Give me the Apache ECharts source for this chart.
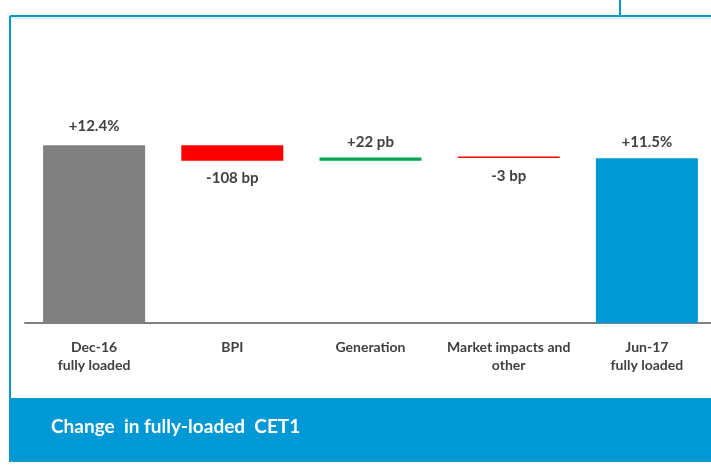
<!DOCTYPE html>
<html>
<head>
<meta charset="utf-8">
<script src="https://cdn.jsdelivr.net/npm/echarts@6/dist/echarts.min.js"></script>
<style>
  html, body { margin: 0; padding: 0; background: #fff; overflow: hidden; }
  #main { width: 720px; height: 466px; }
</style>
</head>
<body>
<div id="main"></div>
<script>
// waterfall data, in % points
const categories = ["Dec-16\nfully loaded", "BPI", "Generation", "Market impacts and\nother", "Jun-17\nfully loaded"];
const changes = [12.4, -1.08, 0.22, -0.03, 11.5];
const isTotal = [true, false, false, false, true];
const valueLabels = ["+12.4%", "-108 bp", "+22 pb", "-3 bp", "+11.5%"];
const barColors = ["#808080", "#ff0000", "#00a650", "#ff0000", "#0099d6"];

// build invisible base + visible step for each bar
const base = [];
const step = [];
let running = 0;
changes.forEach((v, i) => {
  if (isTotal[i]) {
    base.push(0);
    step.push(v);
    running = v;
  } else {
    const next = running + v;
    base.push(Math.min(running, next));
    step.push(Math.abs(v));
    running = next;
  }
});

// label gap from bar edge, tuned per bar
const labelGap = [12, 10, 8, 11, 9];

const myChart = echarts.init(document.getElementById("main"));
const font = "Lato, 'Open Sans', sans-serif";

myChart.setOption({
  animation: false,
  title: {
    text: "Change  in fully-loaded  CET1",
    left: 46,
    top: 412,
    textStyle: { color: "#fff", fontSize: 19, fontWeight: "bold", fontFamily: font },
  },
  grid: { left: 25, width: 691, top: 108, bottom: 143 },
  xAxis: {
    type: "category",
    data: categories,
    axisLine: { lineStyle: { color: "#808080", width: 2 } },
    axisTick: { show: false },
    axisLabel: {
      color: "#404040",
      fontSize: 14,
      fontWeight: "bold",
      fontFamily: font,
      lineHeight: 18,
      margin: 15,
      interval: 0,
    },
  },
  yAxis: { type: "value", min: 0, max: 15, show: false, splitLine: { show: false } },
  series: [
    {
      type: "bar",
      stack: "w",
      data: base,
      itemStyle: { color: "transparent" },
      silent: true,
      barWidth: 102,
    },
    {
      type: "bar",
      stack: "w",
      barWidth: 102,
      barMinHeight: 1.5,
      data: step.map((v, i) => ({
        value: v,
        itemStyle: { color: barColors[i] },
        label: {
          show: true,
          position: changes[i] < 0 ? "bottom" : "top",
          distance: labelGap[i],
          formatter: valueLabels[i],
          color: "#404040",
          fontSize: 15,
          fontWeight: "bold",
          fontFamily: font,
        },
      })),
    },
  ],
  graphic: [
    { type: "rect", shape: { x: 10, y: 398, width: 710, height: 64, r: [0, 0, 0, 4] }, style: { fill: "#0099d6" }, z: -1 },
    { type: "line", shape: { x1: 10, y1: 18, x2: 720, y2: 18 }, style: { stroke: "#bfe3f2", lineWidth: 1 } },
    { type: "line", shape: { x1: 10, y1: 16, x2: 720, y2: 16 }, style: { stroke: "#0099cc", lineWidth: 2 } },
    { type: "line", shape: { x1: 620, y1: 0, x2: 620, y2: 16 }, style: { stroke: "#0099cc", lineWidth: 2 } },
    { type: "line", shape: { x1: 10, y1: 16, x2: 10, y2: 462 }, style: { stroke: "#0099cc", lineWidth: 2 } },
  ],
});
</script>
</body>
</html>
